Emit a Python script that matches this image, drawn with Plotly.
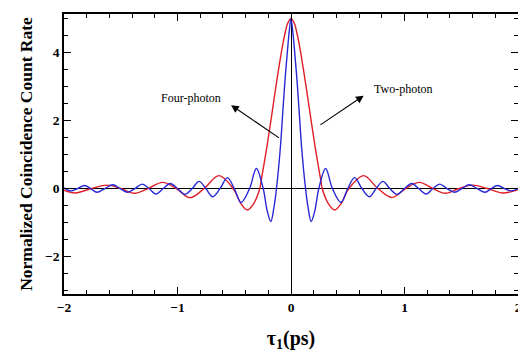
import plotly.graph_objects as go

# Two-photon (red) curve points
red_x = [-2.0, -1.90, -1.76, -1.62, -1.50, -1.38, -1.26, -1.13, -1.01, -0.89, -0.765, -0.635,
         -0.51, -0.44, -0.385, -0.33, -0.275, -0.264, -0.214, -0.17, -0.127, -0.08, -0.05, -0.03, 0.0,
         0.03, 0.05, 0.08, 0.127, 0.17, 0.214, 0.264, 0.275, 0.33, 0.385, 0.44, 0.51, 0.64,
         0.765, 0.89, 1.01, 1.13, 1.25, 1.36, 1.48, 1.60, 1.73, 1.86, 2.0]
red_y = [-0.05, -0.13, 0.0, 0.10, 0.0, -0.14, 0.0, 0.18, 0.0, -0.27, 0.0, 0.38,
         0.0, -0.45, -0.63, -0.45, 0.0, 0.21, 1.19, 2.16, 3.13, 4.1, 4.6, 4.85, 5.0,
         4.85, 4.6, 4.1, 3.13, 2.16, 1.19, 0.21, 0.0, -0.45, -0.63, -0.45, 0.0, 0.38,
         0.0, -0.26, 0.0, 0.18, 0.0, -0.14, 0.0, 0.10, 0.0, -0.13, -0.04]

# Four-photon (blue) curve points
blue_x = [-2.0, -1.94, -1.88, -1.82, -1.765, -1.71, -1.64, -1.57, -1.505, -1.44, -1.375, -1.31,
          -1.25, -1.19, -1.125, -1.065, -1.0, -0.935, -0.87, -0.81, -0.75, -0.69, -0.625, -0.56,
          -0.50, -0.44, -0.365, -0.305, -0.245, -0.21, -0.178, -0.15, -0.128, -0.094, -0.074,
          -0.054, -0.03, -0.016, 0.0,
          0.016, 0.03, 0.054, 0.074, 0.094, 0.128, 0.15, 0.178, 0.21, 0.245, 0.305, 0.365,
          0.44, 0.50, 0.56, 0.625, 0.69, 0.75, 0.81, 0.87, 0.935, 1.0, 1.065, 1.125, 1.19,
          1.25, 1.31, 1.375, 1.44, 1.505, 1.57, 1.64, 1.71, 1.765, 1.82, 1.88, 1.94, 2.0]
blue_y = [0.02, -0.07, 0.0, 0.09, 0.0, -0.11, 0.0, 0.11, 0.0, -0.11, 0.0, 0.13,
          0.0, -0.16, 0.0, 0.15, 0.0, -0.17, 0.0, 0.21, 0.0, -0.24, 0.0, 0.32,
          0.0, -0.41, 0.0, 0.59, 0.0, -0.65, -0.97, -0.55, 0.0, 1.19, 2.16,
          3.13, 4.1, 4.6, 5.0,
          4.6, 4.1, 3.13, 2.16, 1.19, 0.0, -0.55, -0.97, -0.65, 0.0, 0.59, 0.0,
          -0.41, 0.0, 0.32, 0.0, -0.24, 0.0, 0.21, 0.0, -0.17, 0.0, 0.15, 0.0, -0.16,
          0.0, 0.13, 0.0, -0.11, 0.0, 0.11, 0.0, -0.11, 0.0, 0.09, 0.0, -0.07, 0.0]

x_ticks = [-2, -1, 0, 1, 2]
x_tick_labels = ["\u22122", "\u22121", "0", "1", "2"]
y_ticks = [-2, 0, 2, 4]
y_tick_labels = ["\u22122", "0", "2", "4"]

serif = "Liberation Serif, Times New Roman, serif"

fig = go.Figure()
fig.add_trace(go.Scatter(x=red_x, y=red_y, mode="lines", name="Two-photon",
                         line=dict(color="rgb(225,30,40)", width=1.4, shape="spline", smoothing=1.0)))
fig.add_trace(go.Scatter(x=blue_x, y=blue_y, mode="lines", name="Four-photon",
                         line=dict(color="rgb(40,40,215)", width=1.4, shape="spline", smoothing=1.0)))

# The page adds an 8px body margin, so the figure is sized 518x344
fig.update_layout(
    width=518, height=344,
    margin=dict(l=56, r=4, t=4, b=58),
    paper_bgcolor="white", plot_bgcolor="white",
    showlegend=False,
    font=dict(family=serif, color="black"),
)
fig.update_xaxes(
    range=[-2, 2], tickmode="array", tickvals=x_ticks, ticktext=x_tick_labels,
    ticks="inside", ticklen=7, tickwidth=1, tickcolor="black",
    minor=dict(dtick=0.2, ticks="inside", ticklen=4, tickcolor="black", showgrid=False),
    showline=True, linecolor="black", linewidth=1.5, mirror="ticks",
    showgrid=False, zeroline=True, zerolinecolor="black", zerolinewidth=1.2,
    tickfont=dict(family=serif, size=13.5, color="black", weight="bold"),
    title=dict(text="\u03c4<sub>1</sub>(ps)", font=dict(family=serif, size=20, weight="bold"), standoff=17),
)
fig.update_yaxes(
    range=[-3.1, 5.13], tickmode="array", tickvals=y_ticks, ticktext=y_tick_labels,
    ticks="inside", ticklen=7, tickwidth=1, tickcolor="black",
    minor=dict(dtick=0.5, ticks="inside", ticklen=4, tickcolor="black", showgrid=False),
    showline=True, linecolor="black", linewidth=1.5, mirror="ticks",
    showgrid=False, zeroline=True, zerolinecolor="black", zerolinewidth=1.2,
    tickfont=dict(family=serif, size=13.5, color="black", weight="bold"),
    title=dict(text="Normalized Coincidence Count Rate", font=dict(family=serif, size=17.5, weight="bold"), standoff=8),
)

# Labels and arrows
fig.add_annotation(x=-0.88, y=2.65, text="Four-photon", showarrow=False,
                   font=dict(family=serif, size=12, color="black"))
fig.add_annotation(x=-0.528, y=2.45, ax=-0.092, ay=1.46, axref="x", ayref="y",
                   text="", showarrow=True, arrowhead=2, arrowsize=1.4, arrowwidth=1.1, arrowcolor="black")
fig.add_annotation(x=0.99, y=2.94, text="Two-photon", showarrow=False,
                   font=dict(family=serif, size=12, color="black"))
fig.add_annotation(x=0.64, y=2.73, ax=0.246, ay=1.84, axref="x", ayref="y",
                   text="", showarrow=True, arrowhead=2, arrowsize=1.4, arrowwidth=1.1, arrowcolor="black")

fig.write_html("out.html")
